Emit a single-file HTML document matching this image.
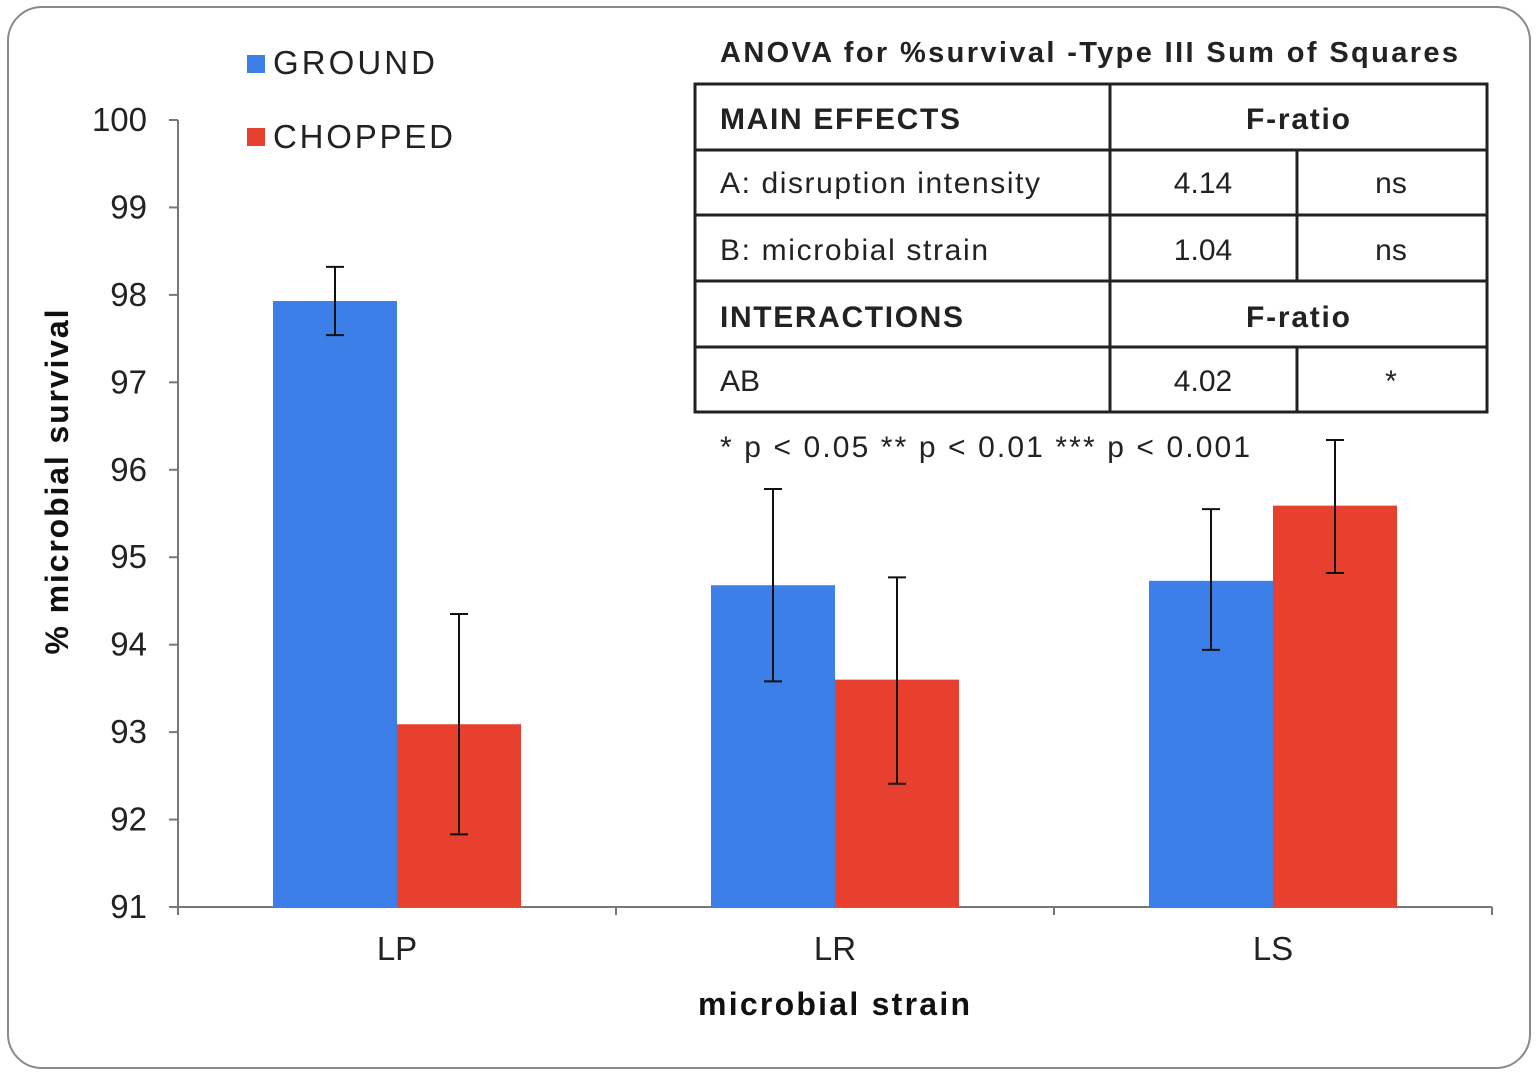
<!DOCTYPE html>
<html><head><meta charset="utf-8"><style>
html,body{margin:0;padding:0;background:#fff;}
svg{display:block;font-family:"Liberation Sans",Arial,sans-serif;}
</style></head><body>
<svg id="chart" width="1539" height="1076">
<rect x="8" y="7" width="1522" height="1061" rx="34" ry="34" fill="#fff" stroke="#8a8a8a" stroke-width="2"/>
<g id="axes"></g>
<g id="bars"></g>
<g>
<rect x="247" y="55" width="18" height="18" fill="#3D7FE8"/>
<text x="273" y="74" font-size="33" fill="#222" textLength="162">GROUND</text>
<rect x="247" y="128" width="18" height="18" fill="#E8402F"/>
<text x="273" y="148" font-size="33" fill="#222" textLength="180">CHOPPED</text>
</g>
<text transform="translate(68,482) rotate(-90)" text-anchor="middle" font-size="32" font-weight="bold" fill="#111" textLength="345">% microbial  survival</text>
<text x="834" y="1015" text-anchor="middle" font-size="32" font-weight="bold" fill="#111" textLength="272">microbial  strain</text>
<g font-size="30" fill="#222">
<text x="720" y="62" font-weight="bold" font-size="29" textLength="738">ANOVA for %survival  -Type III Sum of Squares</text>
<rect x="695" y="84" width="792" height="328" fill="#fff" stroke="#222" stroke-width="3"/>
<g stroke="#222" stroke-width="3">
<line x1="695" y1="150" x2="1487" y2="150"/><line x1="695" y1="215" x2="1487" y2="215"/>
<line x1="695" y1="281" x2="1487" y2="281"/><line x1="695" y1="347" x2="1487" y2="347"/>
<line x1="1110" y1="84" x2="1110" y2="412"/>
<line x1="1297" y1="150" x2="1297" y2="281"/><line x1="1297" y1="347" x2="1297" y2="412"/>
</g>
<text x="720" y="129" font-weight="bold" textLength="240">MAIN EFFECTS</text>
<text x="1298" y="129" font-weight="bold" text-anchor="middle" textLength="104">F-ratio</text>
<text x="720" y="193" textLength="320">A: disruption intensity</text>
<text x="1203" y="193" text-anchor="middle">4.14</text>
<text x="1391" y="193" text-anchor="middle">ns</text>
<text x="720" y="260" textLength="268">B: microbial strain</text>
<text x="1203" y="260" text-anchor="middle">1.04</text>
<text x="1391" y="260" text-anchor="middle">ns</text>
<text x="720" y="327" font-weight="bold" textLength="243">INTERACTIONS</text>
<text x="1298" y="327" font-weight="bold" text-anchor="middle" textLength="104">F-ratio</text>
<text x="720" y="391">AB</text>
<text x="1203" y="391" text-anchor="middle">4.02</text>
<text x="1391" y="391" text-anchor="middle">*</text>
<text x="720" y="457" textLength="530">* p &lt; 0.05  ** p &lt; 0.01  *** p &lt; 0.001</text>
</g>
</svg>
<script>
const categories = ["LP","LR","LS"];
const groundValues = [97.93, 94.68, 94.73];
const groundErrHi = [98.32, 95.78, 95.55];
const groundErrLo = [97.54, 93.58, 93.94];
const choppedValues = [93.09, 93.6, 95.59];
const choppedErrHi = [94.35, 94.77, 96.34];
const choppedErrLo = [91.83, 92.41, 94.82];
const yTicks = [91,92,93,94,95,96,97,98,99,100];

const NS="http://www.w3.org/2000/svg";
const x0=178,x1=1492,yTop=120,yBot=907,yMin=91,yMax=100;
const y=v=>yBot-(v-yMin)/(yMax-yMin)*(yBot-yTop);
const catW=(x1-x0)/categories.length;
const cx=i=>x0+catW*(i+0.5);
const bw=124;
function mk(tag,attrs,parent){const e=document.createElementNS(NS,tag);for(const k in attrs)e.setAttribute(k,attrs[k]);parent.appendChild(e);return e;}
const axes=document.getElementById('axes'),bars=document.getElementById('bars');
let l=mk('line',{x1:x0,y1:yTop,x2:x0,y2:yBot,stroke:'#777','stroke-width':2},axes);


yTicks.forEach(t=>{
  mk('line',{x1:x0-9,y1:y(t),x2:x0,y2:y(t),stroke:'#777','stroke-width':2},axes);
  const tx=mk('text',{x:x0-31,y:y(t)+11,'text-anchor':'end','font-size':33,fill:'#222'},axes);
  tx.textContent=t;
  
  
});
categories.forEach((c,i)=>{
  const tx=mk('text',{x:cx(i),y:960,'text-anchor':'middle','font-size':33,fill:'#222'},axes);
  tx.textContent=c;
  
  
});
for(let i=0;i<=categories.length;i++){mk('line',{x1:x0+catW*i,y1:yBot,x2:x0+catW*i,y2:yBot+8,stroke:'#777','stroke-width':2},axes);}
function drawSeries(vals,hi,lo,off,color,name){
  vals.forEach((v,i)=>{
    const bx=cx(i)+off;
    const r=mk('rect',{x:bx,y:y(v),width:bw,height:yBot-y(v),fill:color},bars);
    
    
    const m=bx+bw/2;
    const g=mk('g',{stroke:'#111','stroke-width':2},bars);
    
    
    mk('line',{x1:m,y1:y(hi[i]),x2:m,y2:y(lo[i])},g);
    mk('line',{x1:m-9,y1:y(hi[i]),x2:m+9,y2:y(hi[i])},g);
    mk('line',{x1:m-9,y1:y(lo[i]),x2:m+9,y2:y(lo[i])},g);
  });
}
drawSeries(groundValues,groundErrHi,groundErrLo,-bw,'#3D7FE8','ground');
drawSeries(choppedValues,choppedErrHi,choppedErrLo,0,'#E8402F','chopped');
let xa=mk('line',{x1:x0,y1:yBot,x2:x1,y2:yBot,stroke:'#777','stroke-width':2},axes);


</script>
</body></html>
